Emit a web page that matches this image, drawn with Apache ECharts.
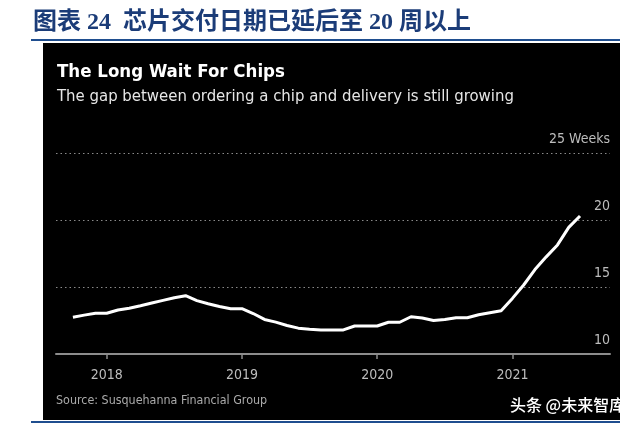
<!DOCTYPE html>
<html>
<head>
<meta charset="utf-8">
<script src="https://cdn.jsdelivr.net/npm/echarts@6/dist/echarts.min.js"></script>
<style>
html,body{margin:0;padding:0;background:#fff;}
#c{width:640px;height:429px;}
</style>
</head>
<body>
<div id="c"></div>
<script>
// Data: months (YYYY-MM) and lead time in weeks
const months = ["2017-10","2017-11","2017-12","2018-01","2018-02","2018-03","2018-04","2018-05","2018-06","2018-07","2018-08","2018-09","2018-10","2018-11","2018-12","2019-01","2019-02","2019-03","2019-04","2019-05","2019-06","2019-07","2019-08","2019-09","2019-10","2019-11","2019-12","2020-01","2020-02","2020-03","2020-04","2020-05","2020-06","2020-07","2020-08","2020-09","2020-10","2020-11","2020-12","2021-01","2021-02","2021-03","2021-04","2021-05","2021-06","2021-07"];
const weeks = [12.74,12.9,13.04,13.04,13.28,13.41,13.6,13.8,14.0,14.2,14.35,13.98,13.75,13.55,13.38,13.38,13.02,12.58,12.38,12.13,11.93,11.85,11.8,11.79,11.8,12.09,12.09,12.09,12.37,12.37,12.78,12.68,12.5,12.58,12.71,12.71,12.93,13.08,13.23,14.15,15.15,16.3,17.25,18.14,19.45,20.3];
const yearTicks = ["2018","2019","2020","2021"];
const yTicks = [10,15,20,25];

const baseYear = 2018;
function monthIndex(s){const p=s.split('-');return (parseInt(p[0])-baseYear)*12+parseInt(p[1])-1;}
const seriesData = months.map((m,i)=>[monthIndex(m),weeks[i]]);
const tickVals = yearTicks.map(y=>(parseInt(y)-baseYear)*12);

const FONT = "'Liberation Sans Narrow','DejaVu Sans Condensed','DejaVu Sans',sans-serif";
const chart = echarts.init(document.getElementById('c'), null, {renderer:'canvas'});
chart.setOption({
  backgroundColor:'#ffffff',
  animation:false,
  grid:{left:56,right:30,top:153,bottom:75,containLabel:false},
  xAxis:{
    type:'value', min:-4.5, max:44.66,
    axisLine:{show:true,lineStyle:{color:'#8c8c8c',width:2}},
    axisTick:{show:true,customValues:tickVals,length:5,lineStyle:{color:'#8c8c8c',width:1.5}},
    axisLabel:{show:true,customValues:tickVals,margin:14,color:'#bdbdbd',fontFamily:FONT,fontSize:14,
      formatter:v=>String(baseYear+Math.round(v/12))},
    splitLine:{show:false}
  },
  yAxis:{
    type:'value', min:10, max:25, interval:5, position:'right',
    axisLine:{show:false}, axisTick:{show:false},
    axisLabel:{inside:true,margin:0,align:'right',verticalAlign:'bottom',padding:[0,0,7,0],
      color:'#bdbdbd',fontFamily:FONT,fontSize:14,
      formatter:v=>v===25?'25 Weeks':String(v)},
    splitLine:{show:true,lineStyle:{color:'#8a8a8a',type:[1.5,3],width:1}}
  },
  series:[{type:'line',data:seriesData,showSymbol:false,lineStyle:{color:'#ffffff',width:3},z:5}],
  graphic:[
    {type:'rect',z:-100,shape:{x:43,y:43,width:577,height:377},style:{fill:'#000000'}},
    {type:'rect',z:-90,shape:{x:31,y:39,width:589,height:2},style:{fill:'#1f4e8f'}},
    {type:'rect',z:-90,shape:{x:31,y:421,width:589,height:2},style:{fill:'#1f4e8f'}},
    {type:'text',left:33,top:11,style:{text:'图表 24  芯片交付日期已延后至 20 周以上',fill:'#1b3c78',
      font:"bold 24px 'Liberation Serif','Noto Sans CJK SC',serif"}},
    {type:'text',left:57,top:63,style:{text:'The Long Wait For Chips',fill:'#ffffff',
      font:"bold 18.5px "+FONT}},
    {type:'text',left:57,top:88,style:{text:'The gap between ordering a chip and delivery is still growing',fill:'#e6e6e6',
      font:"16.6px "+FONT}},
    {type:'text',left:56,top:395,style:{text:'Source: Susquehanna Financial Group',fill:'#aaaaaa',
      font:"12.4px "+FONT}},
    {type:'text',left:510,top:397,style:{text:'头条 @未来智库',fill:'#ffffff',
      font:"500 16px 'Noto Sans CJK SC',sans-serif"}}
  ]
});
</script>
</body>
</html>
